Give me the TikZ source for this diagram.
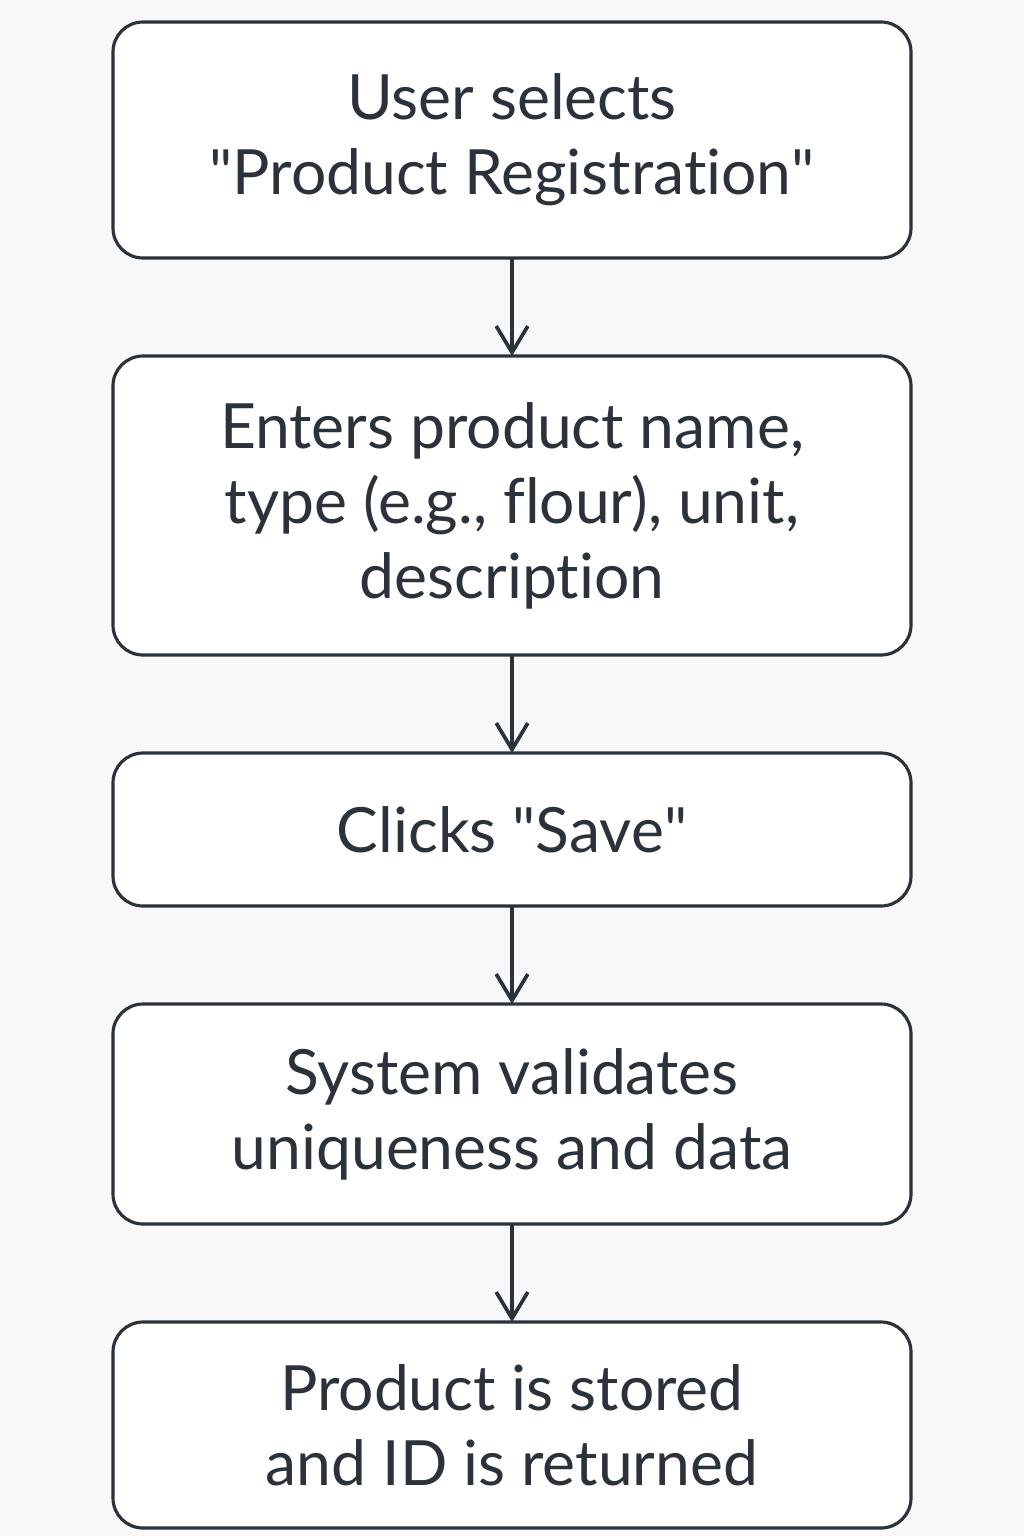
\documentclass[tikz,border=0pt]{standalone}
\usepackage{fontspec}
\setmainfont[Ligatures={NoCommon}]{Lato}
\usetikzlibrary{positioning,arrows.meta}

\definecolor{inkcol}{HTML}{2B323A}
\definecolor{bgcol}{HTML}{F7F8F9}

\tikzset{
    stepbox/.style={rectangle,rounded corners=0.6cm,draw=inkcol,fill=white,
        line width=1.8pt,outer sep=0pt,minimum width=15.96cm,align=center,
        text=inkcol,font=\fontsize{35.5}{42.7}\selectfont},
    flowarrow/.style={draw=inkcol,line width=2.1pt,
        -{Straight Barb[length=15pt,width=18pt,line width=2.1pt]}}
}

\begin{document}
\begin{tikzpicture}[node distance=1.96cm]
    \fill [bgcol] (0,0) rectangle (20.48,-30.72);
    \useasboundingbox (0,0) rectangle (20.48,-30.72);

    \node [stepbox,minimum height=4.72cm] (select) at (10.24,-2.8)
        {User selects\\\textquotedbl Product Registration\textquotedbl};
    \node [stepbox,minimum height=5.98cm,below=of select] (enter)
        {Enters product name,\\type (e.g., flour), unit,\\description};
    \node [stepbox,minimum height=3.06cm,below=of enter] (save)
        {Clicks \textquotedbl Save\textquotedbl};
    \node [stepbox,minimum height=4.4cm,below=of save] (validate)
        {System validates\\uniqueness and data};
    \node [stepbox,minimum height=4.12cm,below=of validate] (store)
        {Product is stored\\and ID is returned};

    \draw [flowarrow] (select) -- (enter);
    \draw [flowarrow] (enter) -- (save);
    \draw [flowarrow] (save) -- (validate);
    \draw [flowarrow] (validate) -- (store);
\end{tikzpicture}
\end{document}
